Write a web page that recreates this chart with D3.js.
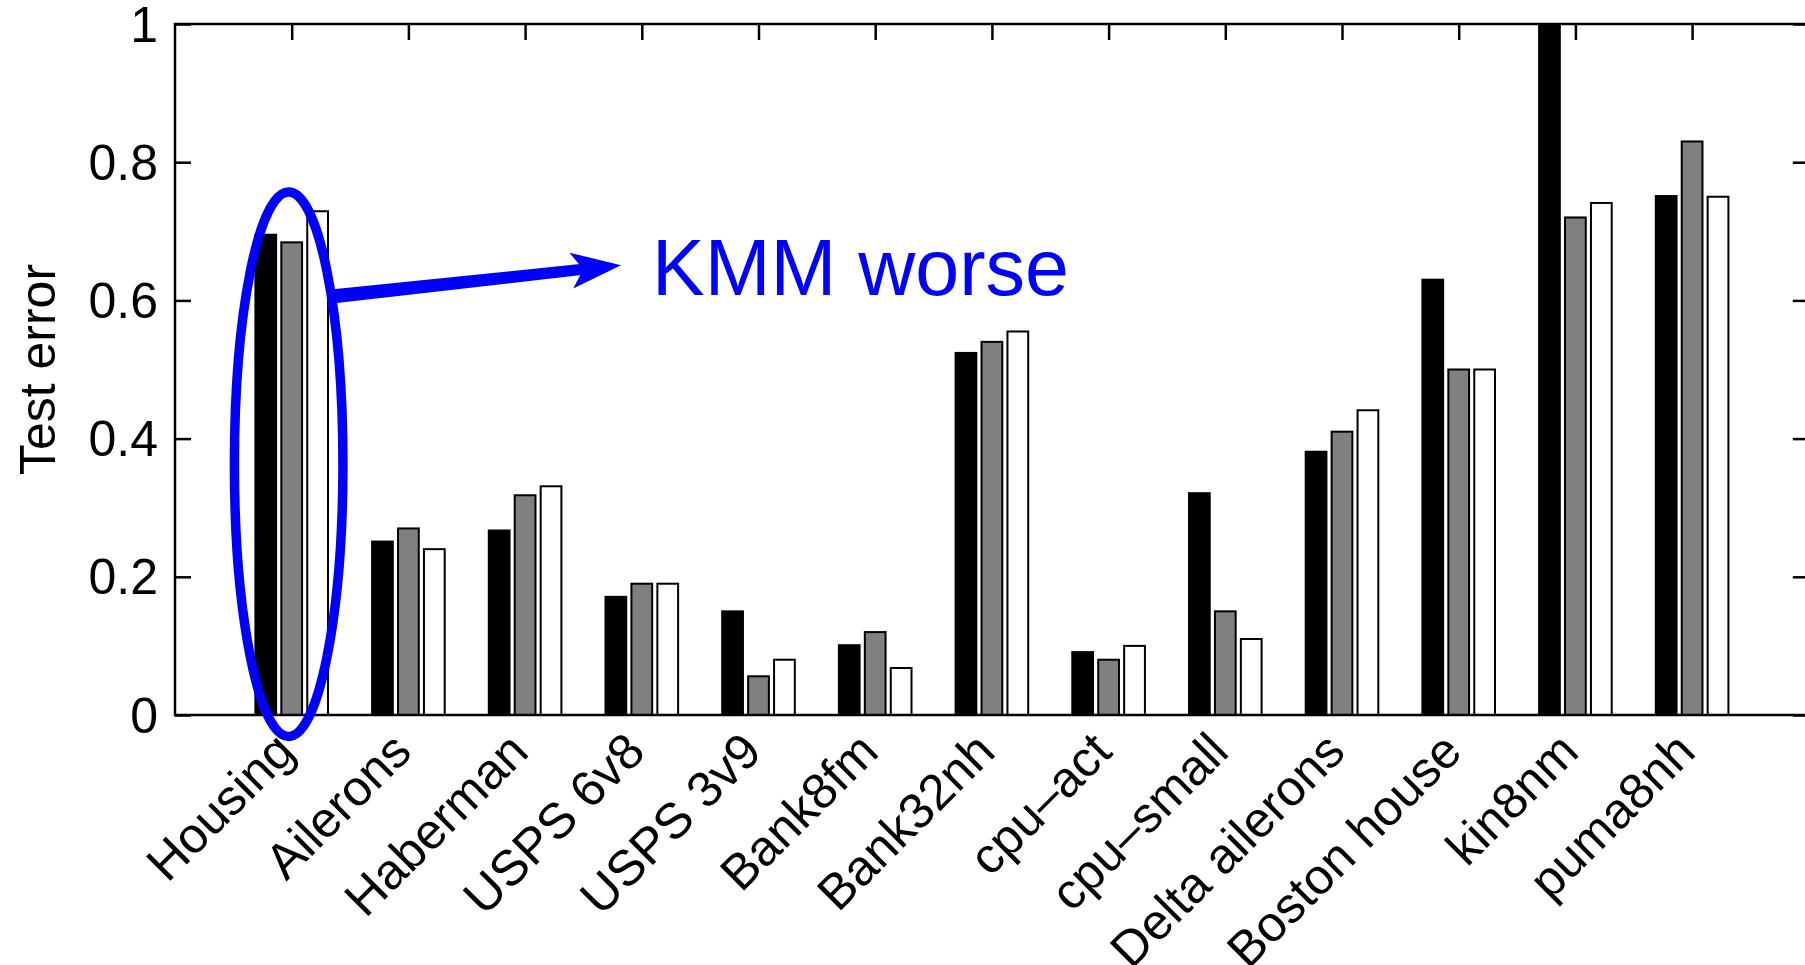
<!DOCTYPE html>
<html>
<head>
<meta charset="utf-8">
<script src="https://cdn.jsdelivr.net/npm/d3@7"></script>
<style>
  html, body { margin: 0; padding: 0; background: #fff; }
  svg { display: block; }
  text { font-family: "Liberation Sans", Arial, Helvetica, sans-serif; }
</style>
</head>
<body>
<svg id="chart" width="1805" height="965"></svg>
<script>
// Datasets on the x axis
const categories = ["Housing", "Ailerons", "Haberman", "USPS 6v8", "USPS 3v9", "Bank8fm",
  "Bank32nh", "cpu\u2013act", "cpu\u2013small", "Delta ailerons", "Boston house", "kin8nm", "puma8nh"];

// Test error for the three methods (black, gray, white bars)
const seriesBlack = [0.695, 0.251, 0.267, 0.171, 0.150, 0.101, 0.524, 0.091, 0.321, 0.381, 0.630, 1.000, 0.751];
const seriesGray  = [0.684, 0.270, 0.318, 0.190, 0.056, 0.120, 0.540, 0.080, 0.150, 0.410, 0.500, 0.720, 0.830];
const seriesWhite = [0.729, 0.240, 0.331, 0.190, 0.080, 0.068, 0.555, 0.100, 0.110, 0.441, 0.500, 0.741, 0.750];

const yTicks = [0, 0.2, 0.4, 0.6, 0.8, 1];
const yTickLabels = ["0", "0.2", "0.4", "0.6", "0.8", "1"];

const series = [
  { values: seriesBlack, fill: "#000000" },
  { values: seriesGray,  fill: "#808080" },
  { values: seriesWhite, fill: "#ffffff" }
];

const svg = d3.select("#chart");
const W = 1805, H = 965;
svg.append("rect").attr("width", W).attr("height", H).attr("fill", "#fff");

// Plot box
const plotLeft = 175, plotTop = 24, plotBottom = 715;
const step = 116.7;
const x = d3.scaleLinear().domain([0, categories.length + 1]).range([plotLeft, plotLeft + step * (categories.length + 1)]);
const y = d3.scaleLinear().domain([0, 1]).range([plotBottom, plotTop]);

// Grouped-bar geometry (three bars per group)
const nSeries = series.length;
const groupWidth = Math.min(0.8, nSeries / (nSeries + 1.5));
const barWidth = 0.8 * groupWidth / nSeries;
const offset = i => (i - (nSeries - 1) / 2) * groupWidth / nSeries;

const tickLen = 16;
const fontSize = 50;
const axisColor = "#000";

// Axes (ticks pointing inward, MATLAB box style)
const yAxisL = d3.axisLeft(y).tickValues(yTicks).tickSize(-tickLen).tickSizeOuter(0)
  .tickPadding(17).tickFormat((d, i) => yTickLabels[i]);
const yAxisR = d3.axisRight(y).tickValues(yTicks).tickSize(-tickLen).tickSizeOuter(0).tickFormat("");
const xTickVals = categories.map((c, i) => i + 1);
const xAxisB = d3.axisBottom(x).tickValues(xTickVals).tickSize(-tickLen).tickSizeOuter(0)
  .tickFormat((d) => categories[d - 1]);
const xAxisT = d3.axisTop(x).tickValues(xTickVals).tickSize(-tickLen).tickSizeOuter(0).tickFormat("");

const gAx = svg.append("g");
const gBL = gAx.append("g").attr("transform", `translate(${x(0)},0)`).call(yAxisL);
const gBR = gAx.append("g").attr("transform", `translate(${x(categories.length + 1)},0)`).call(yAxisR);
const gBB = gAx.append("g").attr("transform", `translate(0,${y(0)})`).call(xAxisB);
const gBT = gAx.append("g").attr("transform", `translate(0,${y(1)})`).call(xAxisT);

[gBL, gBR, gBB, gBT].forEach(g => {
  g.selectAll(".domain").remove();
  g.selectAll(".tick line").attr("stroke", axisColor).attr("stroke-width", 2.5);
});

gBL.selectAll(".tick text")
  .attr("font-size", fontSize)
  .attr("fill", "#000")
  .attr("dy", null)
  .attr("dominant-baseline", "central");

// Rotated dataset names
gBB.selectAll(".tick text")
  .attr("font-size", fontSize)
  .attr("fill", "#000")
  .attr("y", 0).attr("dy", null)
  .attr("text-anchor", "end")
  .attr("dominant-baseline", "central")
  .attr("transform", "translate(-7,27) rotate(-45)");

// Bars
const gBars = svg.append("g");
series.forEach((s, si) => {
  gBars.selectAll(null)
    .data(s.values)
    .enter().append("rect")
    .attr("x", (d, i) => x(i + 1 + offset(si) - barWidth / 2))
    .attr("width", x(barWidth) - x(0))
    .attr("y", d => y(Math.min(d, 1)))
    .attr("height", d => y(0) - y(Math.min(d, 1)))
    .attr("fill", s.fill)
    .attr("stroke", "#000")
    .attr("stroke-width", 2);
});

// Box frame
svg.append("rect")
  .attr("x", x(0)).attr("y", y(1))
  .attr("width", x(categories.length + 1) - x(0))
  .attr("height", y(0) - y(1))
  .attr("fill", "none")
  .attr("stroke", axisColor)
  .attr("stroke-width", 2.5);

// Y-axis title
svg.append("text")
  .attr("transform", `translate(55,${(y(0) + y(1)) / 2}) rotate(-90)`)
  .attr("text-anchor", "middle")
  .attr("font-size", fontSize)
  .attr("fill", "#000")
  .text("Test error");

// Annotation: ellipse around Housing, arrow and label
const blue = "#0000ff";
svg.append("ellipse")
  .attr("cx", x(0.974)).attr("cy", y(0.363))
  .attr("rx", x(0.465) - x(0)).attr("ry", y(0) - y(0.394))
  .attr("fill", "none")
  .attr("stroke", blue)
  .attr("stroke-width", 9.5);

const a0 = [x(1.362), y(0.606)];
const a1 = [x(3.822), y(0.651)];
const ang = Math.atan2(a1[1] - a0[1], a1[0] - a0[0]);
const rot = (px, py) => [a1[0] + px * Math.cos(ang) - py * Math.sin(ang),
                         a1[1] + px * Math.sin(ang) + py * Math.cos(ang)];
// shaft (slightly tapered)
const len = Math.hypot(a1[0] - a0[0], a1[1] - a0[1]);
const shaft = [rot(-len, -7), rot(-36, -5.5), rot(-36, 5.5), rot(-len, 7)];
svg.append("path")
  .attr("d", d3.line()(shaft) + "Z")
  .attr("fill", blue);
// head
const head = [rot(0, 0), rot(-50, -18), rot(-38, 0), rot(-50, 18)];
svg.append("path")
  .attr("d", d3.line()(head) + "Z")
  .attr("fill", blue);

svg.append("text")
  .attr("x", x(4.087)).attr("y", y(0.608))
  .attr("font-size", 79)
  .attr("fill", blue)
  .text("KMM worse");
</script>
</body>
</html>
